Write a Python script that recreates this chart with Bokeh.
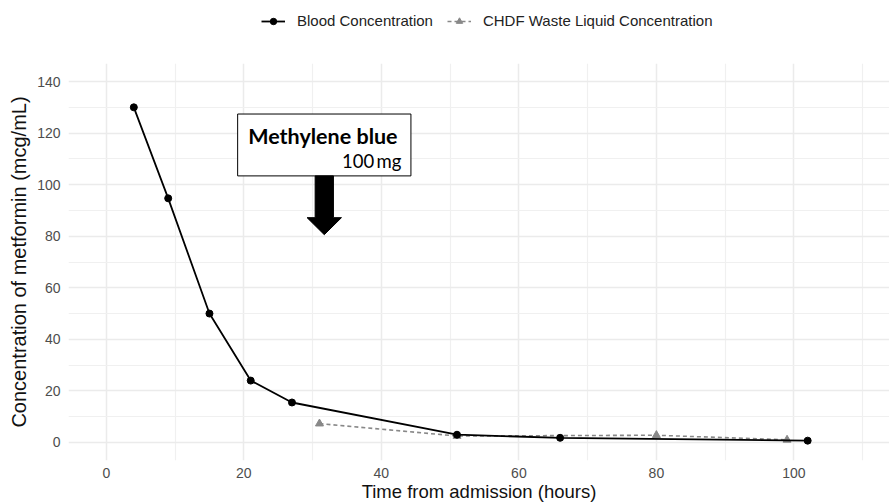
from bokeh.plotting import figure
from bokeh.layouts import column
from bokeh.models import Legend, LegendItem, FixedTicker, Range1d, Label
from bokeh.embed import file_html
from bokeh.resources import INLINE

# ---- data ----
blood_hours = [4, 9, 15, 21, 27, 51, 66, 102]
blood_conc = [130, 94.7, 50, 24, 15.5, 3.0, 1.8, 0.7]
chdf_hours = [31, 51, 80, 99]
chdf_conc = [7.3, 2.5, 2.8, 1.0]

x_ticks = [0, 20, 40, 60, 80, 100]
x_minor = [10, 30, 50, 70, 90, 110]
y_ticks = [0, 20, 40, 60, 80, 100, 120, 140]
y_minor = [10, 30, 50, 70, 90, 110, 130]

x_title = "Time from admission (hours)"
y_title = "Concentration of metformin (mcg/mL)"
blood_label = "Blood Concentration"
chdf_label = "CHDF Waste Liquid Concentration"
note_title = "Methylene blue"
note_dose = "100\u2009mg"

# annotation geometry (data units)
box_x0, box_x1, box_y0, box_y1 = 19.1, 44.3, 103.4, 127.4
arrow_cx = 31.7
shaft_half, head_half = 1.33, 2.5
head_top, arrow_tip = 87.2, 80.6

TOTAL_W, LEGEND_H, MAIN_H = 889, 44, 460

BLOOD = dict(color="black")
CHDF = dict(color="#888888")


def add_series(fig):
    cl = fig.line(chdf_hours, chdf_conc, line_color=CHDF["color"], line_width=1.6,
                  line_dash="4 3")
    cp = fig.scatter(chdf_hours, chdf_conc, marker="triangle", size=8,
                     fill_color=CHDF["color"], line_color=CHDF["color"])
    bl = fig.line(blood_hours, blood_conc, line_color=BLOOD["color"], line_width=1.8)
    bp = fig.scatter(blood_hours, blood_conc, marker="circle", size=7,
                     fill_color=BLOOD["color"], line_color=BLOOD["color"])
    return cl, cp, bl, bp


# ---- main plot ----
p = figure(width=TOTAL_W, height=MAIN_H, output_backend="svg",
           toolbar_location=None, x_range=Range1d(-5.5, 113.9),
           y_range=Range1d(-7, 147),
           min_border_left=68, min_border_right=0, min_border_top=19,
           min_border_bottom=43, background_fill_color="white",
           border_fill_color="white", outline_line_color=None)

for ax, ticks, minor in ((p.xaxis, x_ticks, x_minor), (p.yaxis, y_ticks, y_minor)):
    ax.ticker = FixedTicker(ticks=ticks, minor_ticks=minor)
    ax.axis_line_color = None
    ax.major_tick_line_color = None
    ax.minor_tick_line_color = None
    ax.major_tick_out = 0
    ax.minor_tick_out = 0
    ax.major_label_text_font = "Liberation Sans"
    ax.major_label_text_font_size = "14px"
    ax.major_label_text_color = "#4d4d4d"
    ax.axis_label_text_font = "Liberation Sans"
    ax.axis_label_text_font_style = "normal"
    ax.axis_label_text_color = "#111111"

p.xaxis.axis_label = x_title
p.yaxis.axis_label = y_title
p.xaxis.axis_label_text_font_size = "18.5px"
p.yaxis.axis_label_text_font_size = "20px"
p.xaxis.major_label_standoff = 7
p.yaxis.major_label_standoff = 8
p.xaxis.axis_label_standoff = 0
p.yaxis.axis_label_standoff = 4

for g in (p.xgrid, p.ygrid):
    g.grid_line_color = "#ebebeb"
    g.grid_line_width = 1.5
    g.minor_grid_line_color = "#f0f0f0"
    g.minor_grid_line_width = 1.2

# methylene blue note
p.quad(left=[box_x0], right=[box_x1], bottom=[box_y0], top=[box_y1],
       fill_color="white", line_color="black", line_width=1)
p.patch([arrow_cx - shaft_half, arrow_cx + shaft_half, arrow_cx + shaft_half,
         arrow_cx + head_half, arrow_cx, arrow_cx - head_half, arrow_cx - shaft_half],
        [box_y0, box_y0, head_top, head_top, arrow_tip, head_top, head_top],
        fill_color="black", line_color="black", line_width=1)
p.add_layout(Label(x=31.5, y=118.8, text=note_title, text_font="Lato",
                   text_font_style="bold", text_font_size="21.5px",
                   text_align="center", text_baseline="alphabetic",
                   text_color="black"))
p.add_layout(Label(x=42.9, y=109.2, text=note_dose, text_font="Lato",
                   text_font_size="18.5px", text_align="right",
                   text_baseline="alphabetic", text_color="black"))

add_series(p)

# ---- legend strip (same series, drawn with the library's legend) ----
lg = figure(width=TOTAL_W, height=LEGEND_H, output_backend="svg",
            toolbar_location=None, x_axis_type=None, y_axis_type=None,
            x_range=Range1d(1000, 1001), y_range=Range1d(1000, 1001),
            min_border=0, outline_line_color=None,
            background_fill_color="white", border_fill_color="white")
lg.grid.visible = False
cl, cp, bl, bp = add_series(lg)

legend = Legend(items=[LegendItem(label=blood_label, renderers=[bl, bp]),
                       LegendItem(label=chdf_label, renderers=[cl, cp])],
                orientation="horizontal", location=(193, 15),
                label_text_font="Liberation Sans", label_text_font_size="15px",
                label_text_color="#222222", glyph_width=24, glyph_height=16,
                label_height=16, label_standoff=12, spacing=14, padding=0,
                margin=0, border_line_color=None, background_fill_alpha=0)
lg.add_layout(legend)

layout = column(lg, p, spacing=0)
open("out.html", "w").write(file_html(layout, INLINE))
